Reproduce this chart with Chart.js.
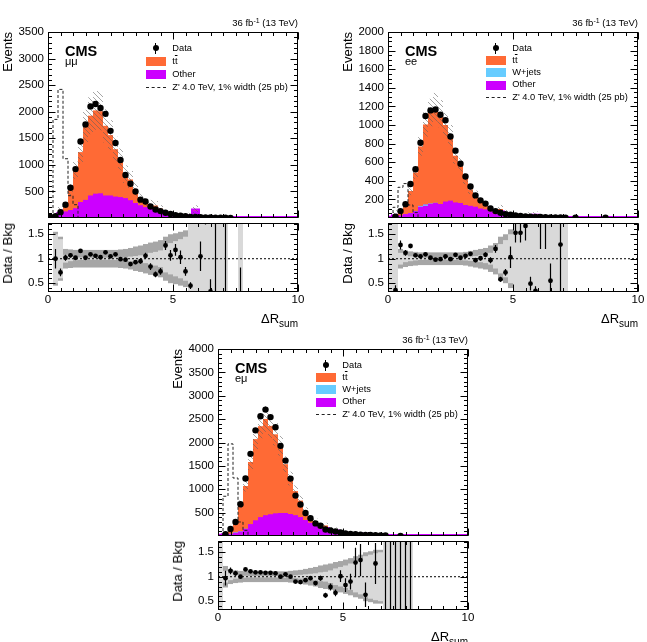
<!DOCTYPE html>
<html><head><meta charset="utf-8">
<script src="https://cdn.jsdelivr.net/npm/chart.js@4.4.1/dist/chart.umd.min.js"></script>
<style>
html,body{margin:0;padding:0;background:#fff;}
body{position:relative;width:647px;height:642px;overflow:hidden;font-family:"Liberation Sans",Arial,Helvetica,sans-serif;color:#000;}
canvas{position:absolute;}
.t{position:absolute;white-space:nowrap;line-height:1;}
.v{writing-mode:vertical-rl;transform:rotate(180deg);}
.sw{position:absolute;}
</style></head><body>
<script>
// ---------- axis / categories ----------
const X_LO = 0, X_HI = 10, BIN_W = 0.2, N_BINS = 50;
const BIN_LOW = [];
for (let i = 0; i < N_BINS; i++) BIN_LOW.push(Math.round(i * BIN_W * 10) / 10);
const X_TICK_LABELS = [0, 5, 10];
const RATIO_Y_TICKS = [0.5, 1, 1.5];
const RATIO_MIN = 0.32, RATIO_MAX = 1.73;
const MM_Y_TICKS = [500, 1000, 1500, 2000, 2500, 3000, 3500];
const EE_Y_TICKS = [200, 400, 600, 800, 1000, 1200, 1400, 1600, 1800, 2000];
const EM_Y_TICKS = [500, 1000, 1500, 2000, 2500, 3000, 3500, 4000];
const N = null;

// ---------- mu mu ----------
const MM_DATA = [20,35,110,250,570,920,1440,1760,2100,2145,
 2070,1960,1640,1410,1090,810,645,500,345,310,
 215,160,130,100,75,55,45,35,22,18,
 14,12,8,6,5,4,3,N,N,N,
 N,N,N,N,N,N,N,N,N,N];
const MM_TT = [8,15,83,125,383,720,940,1385,1505,1570,
 1550,1315,1140,895,710,456,395,258,128,92,
 86,95,66,24,25,17,16,17,17,10,
 5,2,8,1,0,0.3,0,0,0,0,
 0,0,0,0,0,0,0,0,0,0];
const MM_OTHER = [5,20,70,120,150,180,300,340,420,455,
 460,420,420,400,390,370,330,280,235,200,
 170,140,110,55,45,30,28,30,32,140,
 8,3,16,2,1,1,0,0,2,0,
 0,0,0,0,0,0,0,0,0,0];
const MM_ZP = [0,1855,2420,1115,420,250,0,0,0,0,
 0,0,0,0,0,0,0,0,0,0, 0,0,0,0,0,0,0,0,0,0, 0,0,0,0,0,0,0,0,0,0, 0,0,0,0,0,0,0,0,0,0];
const MM_RATIO = [N,1.0,0.72,1.02,1.07,1.02,1.16,1.02,1.09,1.06,
 1.03,1.13,1.05,1.09,0.99,0.98,0.89,0.93,0.95,1.06,
 0.84,0.68,0.74,1.27,1.07,1.18,1.03,0.74,0.45,0.12,
 1.05,2.4,0.33,2.2,5,3,N,N,0,N,
 N,N,N,N,N,N,N,N,N,N];
const MM_RATIO_ERR = [N,0.2,0.08,0.06,0.045,0.035,0.03,0.025,0.025,0.025,
 0.025,0.025,0.025,0.03,0.03,0.035,0.04,0.045,0.055,0.06,
 0.07,0.06,0.07,0.09,0.11,0.12,0.14,0.09,0.07,0.03,
 0.3,0.7,0.25,1.9,2.2,3,N,N,0.82,N,
 N,N,N,N,N,N,N,N,N,N];
const MM_TOT_UNC = [N,0.55,0.45,0.2,0.19,0.18,0.18,0.18,0.18,0.18,
 0.18,0.18,0.18,0.18,0.19,0.2,0.22,0.25,0.27,0.3,
 0.33,0.35,0.38,0.45,0.5,0.52,0.55,0.58,1,0.6,
 1,1,1,1,1,1,N,N,N,N,
 N,N,N,N,N,N,N,N,N,N];
const MM_STAT_UNC = [N,0.5,0.4,0.08,0.05,0.03,0.025,0.02,0.02,0.02,
 0.02,0.02,0.02,0.025,0.03,0.035,0.045,0.055,0.07,0.09,
 0.12,0.14,0.17,0.28,0.32,0.36,0.4,0.45,1,1,
 1,1,1,1,1,1,N,N,1,N,
 N,N,N,N,N,N,N,N,N,N];

// ---------- e e ----------
const EE_DATA = [N,15,74,148,366,524,809,1097,1157,1167,
 1111,1051,876,724,584,447,338,243,190,155,
 102,74,56,42,35,28,22,18,15,12,
 10,8,7,6,5,3,N,3,N,N,
 N,N,N,3,N,N,N,N,N,N];
const EE_TT = [2,22,33,90,237,415,640,861,979,1027,
 972,825,700,505,413,282,177,130,88,53,
 35,20,37,22,12,6,5,4,11,10,
 1,1.1,4,0,1,0,0,0,0,0,
 0,0,0,0,0,0,0,0,0,0];
const EE_WJETS = [0,0,0,2,3,5,10,15,5,3,
 0,0,0,0,0,0,0,0,0,0, 0,0,0,0,0,0,0,0,0,0, 0,0,0,0,0,0,0,0,0,0, 0,0,0,0,0,0,0,0,0,0];
const EE_OTHER = [3,20,25,40,50,70,120,130,150,160,
 150,175,185,165,160,140,130,120,100,90,
 70,42,60,36,22,12,9,7,20,25,
 3,2.5,9,0,3,0,0,0,0,0,
 0,0,0,0,0,0,0,0,0,0];
const EE_ZP = [0,115,330,370,140,60,0,0,0,0,
 0,0,0,0,0,0,0,0,0,0, 0,0,0,0,0,0,0,0,0,0, 0,0,0,0,0,0,0,0,0,0, 0,0,0,0,0,0,0,0,0,0];
const EE_RATIO = [N,0.36,1.28,1.12,1.26,1.07,1.05,1.09,1.02,0.98,
 0.99,1.05,0.99,1.08,1.02,1.06,1.1,0.97,1.01,1.08,
 0.97,1.2,0.58,0.72,1.03,1.53,1.53,1.67,0.49,0.34,
 2.5,2.2,0.55,N,1.29,N,N,N,N,N,
 N,N,N,N,N,N,N,N,N,N];
const EE_RATIO_ERR = [N,0.1,0.09,0.06,0.04,0.03,0.025,0.025,0.025,0.025,
 0.025,0.025,0.025,0.03,0.03,0.035,0.035,0.04,0.045,0.05,
 0.06,0.08,0.05,0.07,0.22,0.2,0.2,0.3,0.14,0.1,
 1.3,1.0,0.35,N,1.2,N,N,N,N,N,
 N,N,N,N,N,N,N,N,N,N];
const EE_TOT_UNC = [1,1,0.2,0.17,0.15,0.14,0.13,0.13,0.13,0.13,
 0.13,0.13,0.13,0.13,0.13,0.14,0.16,0.18,0.2,0.22,
 0.27,0.32,0.45,0.5,0.6,1,1,1,1,1,
 1,1,1,1,1,1,N,N,N,N,
 N,N,N,N,N,N,N,N,N,N];
const EE_STAT_UNC = [1,1,0.12,0.07,0.05,0.035,0.025,0.02,0.02,0.02,
 0.02,0.02,0.02,0.025,0.03,0.035,0.045,0.055,0.07,0.09,
 0.12,0.2,0.3,0.38,0.5,1,1,1,1,1,
 1,1,1,1,1,1,N,N,N,N,
 N,N,N,N,N,N,N,N,N,N];

// ---------- e mu ----------
const EM_DATA = [N,40,150,300,680,1230,1757,2260,2560,2704,
 2543,2327,1928,1613,1228,864,675,493,381,269,
 220,140,120,95,75,55,45,38,30,24,
 20,16,13,10,N,N,3,N,N,N,
 N,N,N,N,N,N,N,N,N,N];
const EM_TT = [2,23,89,205,580,915,1333,1743,1949,2064,
 1895,1695,1438,1046,758,520,358,190,113,89,
 67,76,52,47,24,21,16,9,7,12,
 2.3,3.6,1.2,0.8,0.2,0.2,0.3,0.2,0.2,0,
 0,0,0,0,0,0,0,0,0,0];
const EM_WJETS = [0,3,10,15,10,5,0,0,0,0,
 0,0,0,0,0,0,0,0,0,0, 0,0,0,0,0,0,0,0,0,0, 0,0,0,0,0,0,0,0,0,0, 0,0,0,0,0,0,0,0,0,0];
const EM_OTHER = [3,15,35,60,90,150,250,330,400,440,
 460,480,490,490,470,440,400,340,280,220,
 160,150,100,95,50,45,34,20,15,26,
 6,9,4,2.5,0.5,0.5,0.7,0.5,0.5,0,
 0,0,0,0,0,0,0,0,0,0];
const EM_ZP = [0,850,1970,1240,300,120,0,0,0,0,
 0,0,0,0,0,0,0,0,0,0, 0,0,0,0,0,0,0,0,0,0, 0,0,0,0,0,0,0,0,0,0, 0,0,0,0,0,0,0,0,0,0];
const EM_RATIO = [N,0.97,1.12,1.07,1.0,1.15,1.11,1.09,1.09,1.08,
 1.08,1.07,1.0,1.05,1.0,0.9,0.89,0.93,0.97,0.87,
 0.97,0.62,0.79,0.67,1.01,0.83,0.9,1.29,1.34,0.63,
 2.4,1.27,2.5,3,0,0,3,0,0,N,
 N,N,N,N,N,N,N,N,N,N];
const EM_RATIO_ERR = [N,0.15,0.07,0.05,0.03,0.025,0.02,0.02,0.02,0.02,
 0.02,0.02,0.02,0.02,0.02,0.03,0.03,0.035,0.04,0.045,
 0.05,0.05,0.07,0.07,0.12,0.14,0.16,0.3,0.33,0.25,
 0.6,0.42,0.7,2.8,4,4,3,4,4,N,
 N,N,N,N,N,N,N,N,N,N];
const EM_TOT_UNC = [1,0.22,0.15,0.13,0.12,0.11,0.11,0.11,0.11,0.11,
 0.11,0.11,0.11,0.11,0.12,0.13,0.14,0.16,0.18,0.2,
 0.23,0.25,0.27,0.3,0.32,0.35,0.38,0.42,0.45,0.5,
 0.52,0.55,0.55,1,1,1,1,1,1,N,
 N,N,N,N,N,N,N,N,N,N];
const EM_STAT_UNC = [1,0.12,0.07,0.04,0.03,0.02,0.015,0.015,0.015,0.015,
 0.015,0.015,0.015,0.02,0.025,0.03,0.04,0.05,0.06,0.07,
 0.09,0.1,0.13,0.17,0.2,0.23,0.27,0.32,0.36,0.42,
 0.45,0.48,0.5,1,1,1,1,1,1,N,
 N,N,N,N,N,N,N,N,N,N];

// ---------- text ----------
const LUMI_TEXT = '36 fb<span style="font-size:7px;position:relative;top:-3.5px">-1</span> (13 TeV)';
const CMS_TEXT = 'CMS';
const Y_TITLE = 'Events';
const RATIO_TITLE = 'Data / Bkg';
const X_TITLE = '\u0394R<span style="font-size:10px;position:relative;top:4px">sum</span>';
const LEG_LABELS = {
  data: 'Data',
  tt: 't<span style="text-decoration:overline">t</span>',
  wjets: 'W+jets',
  other: 'Other',
  zp: "Z' 4.0 TeV, 1% width (25 pb)"
};

// ---------- style ----------
const FONT = '"Liberation Sans", Arial, Helvetica, sans-serif';
const C_TT = '#ff6a35', C_OTHER = '#cc00ff', C_WJ = '#66ccff', C_TOT = '#a6a6a6', C_STAT = '#d9d9d9';
const YW = 40, RPAD = 12, TPAD = 10, BPAD = 1, RTPAD = 8, XH = 20;

const PANELS = [
  {label:'\u03bc\u03bc', PL:48, PT:32, PB:221, RT:223, RB:292, yMax:3500, yTicks:MM_Y_TICKS, yMinor:100, legStep:13,
   data:MM_DATA, tt:MM_TT, wjets:null, other:MM_OTHER, zp:MM_ZP, ratio:MM_RATIO, rerr:MM_RATIO_ERR, tot:MM_TOT_UNC, stat:MM_STAT_UNC},
  {label:'ee', PL:388, PT:32, PB:221, RT:223, RB:292, yMax:2000, yTicks:EE_Y_TICKS, yMinor:50, legStep:12.3,
   data:EE_DATA, tt:EE_TT, wjets:EE_WJETS, other:EE_OTHER, zp:EE_ZP, ratio:EE_RATIO, rerr:EE_RATIO_ERR, tot:EE_TOT_UNC, stat:EE_STAT_UNC},
  {label:'e\u03bc', PL:218, PT:349, PB:539, RT:541, RB:610, yMax:4000, yTicks:EM_Y_TICKS, yMinor:100, legStep:12.3,
   data:EM_DATA, tt:EM_TT, wjets:EM_WJETS, other:EM_OTHER, zp:EM_ZP, ratio:EM_RATIO, rerr:EM_RATIO_ERR, tot:EM_TOT_UNC, stat:EM_STAT_UNC}
];

function makeHatch() {
  const c = document.createElement('canvas'); c.width = 5; c.height = 5;
  const g = c.getContext('2d');
  g.strokeStyle = 'rgba(95,95,95,0.7)'; g.lineWidth = 0.8;
  g.beginPath();
  g.moveTo(-1,-1); g.lineTo(6,6);
  g.moveTo(-1,4); g.lineTo(1,6);
  g.moveTo(4,-1); g.lineTo(6,1);
  g.stroke();
  return g.createPattern(c, 'repeat');
}
const HATCH = makeHatch();

function binPoints(vals) { return BIN_LOW.map((x,i) => ({x: x + BIN_W/2, y: vals[i]})); }
function stepPoints(vals) {
  const p = BIN_LOW.map((x,i) => ({x, y: vals[i] || 0}));
  p.push({x: X_HI, y: vals[N_BINS-1] || 0});
  return p;
}
function floatBars(a, b) {
  return BIN_LOW.map((x,i) => ({x: x + BIN_W/2, y: (b[i] - a[i] > 0) ? [a[i], b[i]] : null}));
}
function bandBars(center, unc) {
  return BIN_LOW.map((x,i) => {
    const c = center[i], u = unc[i];
    return {x: x + BIN_W/2, y: (u == null || c == null || c <= 0) ? null : [c*(1-u), c*(1+u)]};
  });
}
function ratioBand(unc) {
  return BIN_LOW.map((x,i) => ({x: x + BIN_W/2, y: unc[i] == null ? null : [1 - unc[i], 1 + unc[i]]}));
}
function range(a, b, step) { const r = []; for (let v = a; v <= b + 1e-9; v += step) r.push(Math.round(v*1000)/1000); return r; }

function framePlugin(cfg) {
  return {
    id: 'frameTicks',
    afterDraw(chart) {
      const {ctx, chartArea: a} = chart; const xs = chart.scales.x, ys = chart.scales.y;
      ctx.save(); ctx.strokeStyle = '#000'; ctx.lineWidth = 1;
      const L = a.left + 0.5, R = a.right - 0.5, T = a.top + 0.5, B = a.bottom - 0.5;
      ctx.beginPath();
      const xt = (vals, len) => vals.forEach(v => { const p = Math.round(xs.getPixelForValue(v)) + 0.5;
        ctx.moveTo(p, B); ctx.lineTo(p, B - len); ctx.moveTo(p, T); ctx.lineTo(p, T + len); });
      const yt = (vals, len) => vals.forEach(v => { const p = Math.round(ys.getPixelForValue(v)) + 0.5;
        if (p < T || p > B) return;
        ctx.moveTo(L, p); ctx.lineTo(L + len, p); ctx.moveTo(R, p); ctx.lineTo(R - len, p); });
      xt(cfg.xMinor, cfg.xMinLen); xt(cfg.xMajor, cfg.xMajLen);
      yt(cfg.yMinor, cfg.yMinLen); yt(cfg.yMajor, cfg.yMajLen);
      ctx.stroke();
      ctx.strokeRect(L, T, R - L, B - T);
      ctx.restore();
    }
  };
}
function errorPlugin(points, errs) {
  return {
    id: 'errorBars',
    afterDatasetsDraw(chart) {
      const {ctx, chartArea: a} = chart; const xs = chart.scales.x, ys = chart.scales.y;
      ctx.save();
      ctx.beginPath(); ctx.rect(a.left, a.top, a.width, a.height); ctx.clip();
      ctx.strokeStyle = '#000'; ctx.lineWidth = 1.2;
      ctx.beginPath();
      points.forEach((p, i) => {
        const e = errs[i];
        if (p.y == null || e == null) return;
        const px = xs.getPixelForValue(p.x);
        ctx.moveTo(px, ys.getPixelForValue(p.y - e));
        ctx.lineTo(px, ys.getPixelForValue(p.y + e));
      });
      ctx.stroke(); ctx.restore();
    }
  };
}
function mkCanvas(left, top, w, h) {
  const cv = document.createElement('canvas');
  cv.width = w; cv.height = h;
  cv.style.left = left + 'px'; cv.style.top = top + 'px';
  cv.style.width = w + 'px'; cv.style.height = h + 'px';
  document.body.appendChild(cv);
  return cv;
}
const BAR = {type:'bar', grouped:false, barPercentage:1, categoryPercentage:1, inflateAmount:0, clip:0, borderWidth:0};

function makeMain(p) {
  const W = YW + 250 + RPAD, H = TPAD + (p.PB - p.PT) + BPAD;
  const cv = mkCanvas(p.PL - YW, p.PT - TPAD, W, H);
  const lo = [], mid = [], hi = [], zero = [];
  for (let i = 0; i < N_BINS; i++) {
    const o = p.other[i] || 0, w = p.wjets ? (p.wjets[i] || 0) : 0, t = p.tt[i] || 0;
    lo.push(o); mid.push(o + w); hi.push(o + w + t); zero.push(0);
  }
  const ds = [
    {type:'line', data: binPoints(p.data), showLine:false, pointRadius:3.2, pointBackgroundColor:'#000', pointBorderColor:'#000', pointBorderWidth:0},
    {type:'line', data: stepPoints(p.zp), stepped:true, borderColor:'#222', borderWidth:1, borderDash:[3,2], pointRadius:0, fill:false, clip:0},
    Object.assign({}, BAR, {data: bandBars(hi, p.tot), backgroundColor: HATCH}),
    Object.assign({}, BAR, {data: floatBars(zero, lo), backgroundColor: C_OTHER})
  ];
  if (p.wjets) ds.push(Object.assign({}, BAR, {data: floatBars(lo, mid), backgroundColor: C_WJ}));
  ds.push(Object.assign({}, BAR, {data: floatBars(mid, hi), backgroundColor: C_TT}));
  ds.push({type:'line', data: stepPoints(p.other), stepped:true, borderColor:C_OTHER, borderWidth:4, pointRadius:0, fill:false, clip:0});
  new Chart(cv, {
    type:'bar', data:{datasets: ds},
    options:{
      responsive:false, animation:false, devicePixelRatio:1, events:[],
      layout:{padding:{left:0, top:TPAD, right:RPAD, bottom:BPAD}},
      plugins:{legend:{display:false}, tooltip:{enabled:false}},
      scales:{
        x:{type:'linear', min:X_LO, max:X_HI, offset:false, display:false},
        y:{type:'linear', min:0, max:p.yMax, grid:{display:false, drawTicks:false}, border:{display:false},
           ticks:{font:{family:FONT, size:11.5}, color:'#000', padding:4, callback:v => String(v)},
           afterBuildTicks: s => { s.ticks = p.yTicks.map(v => ({value:v})); },
           afterFit: s => { s.width = YW; s.paddingTop = 0; s.paddingBottom = 0; }}
      }
    },
    plugins:[framePlugin({xMinor: range(X_LO, X_HI, 0.5), xMinLen:3.5, xMajor: X_TICK_LABELS, xMajLen:7,
      yMinor: range(0, p.yMax, p.yMinor), yMinLen:3.5, yMajor: [0].concat(p.yTicks), yMajLen:7})]
  });
}

function makeRatio(p) {
  const W = YW + 250 + RPAD, H = RTPAD + (p.RB - p.RT) + XH;
  const cv = mkCanvas(p.PL - YW, p.RT - RTPAD, W, H);
  const pts = binPoints(p.ratio);
  const ds = [
    {type:'line', data: pts, showLine:false, pointRadius:2.4, pointBackgroundColor:'#000', pointBorderColor:'#000', pointBorderWidth:0},
    {type:'line', data:[{x:X_LO, y:1}, {x:X_HI, y:1}], borderColor:'#000', borderWidth:1, borderDash:[2,2], pointRadius:0, fill:false},
    Object.assign({}, BAR, {data: ratioBand(p.stat), backgroundColor: C_STAT}),
    Object.assign({}, BAR, {data: ratioBand(p.tot), backgroundColor: C_TOT})
  ];
  new Chart(cv, {
    type:'bar', data:{datasets: ds},
    options:{
      responsive:false, animation:false, devicePixelRatio:1, events:[],
      layout:{padding:{left:0, top:RTPAD, right:RPAD, bottom:0}},
      plugins:{legend:{display:false}, tooltip:{enabled:false}},
      scales:{
        x:{type:'linear', min:X_LO, max:X_HI, offset:false, grid:{display:false, drawTicks:false}, border:{display:false},
           ticks:{font:{family:FONT, size:11.5}, color:'#000', padding:1, maxRotation:0, callback:v => String(v)},
           afterBuildTicks: s => { s.ticks = X_TICK_LABELS.map(v => ({value:v})); },
           afterFit: s => { s.height = XH; s.paddingLeft = 0; s.paddingRight = 0; }},
        y:{type:'linear', min:RATIO_MIN, max:RATIO_MAX, grid:{display:false, drawTicks:false}, border:{display:false},
           ticks:{font:{family:FONT, size:11.5}, color:'#000', padding:4, callback:v => String(v)},
           afterBuildTicks: s => { s.ticks = RATIO_Y_TICKS.map(v => ({value:v})); },
           afterFit: s => { s.width = YW; s.paddingTop = 0; s.paddingBottom = 0; }}
      }
    },
    plugins:[errorPlugin(pts, p.rerr), framePlugin({xMinor: range(X_LO, X_HI, 0.5), xMinLen:3.5, xMajor: X_TICK_LABELS, xMajLen:7,
      yMinor: range(0.4, 1.7, 0.1), yMinLen:3.5, yMajor: RATIO_Y_TICKS, yMajLen:7})]
  });
}

function addText(html, css, cls) {
  const d = document.createElement('div'); d.className = 't' + (cls ? ' ' + cls : '');
  d.innerHTML = html; Object.assign(d.style, css); document.body.appendChild(d); return d;
}
function addSwatch(css) {
  const d = document.createElement('div'); d.className = 'sw'; Object.assign(d.style, css); document.body.appendChild(d);
}

PANELS.forEach(p => { makeMain(p); makeRatio(p); });

PANELS.forEach(p => {
  const right = (647 - (p.PL + 250)) + 'px';
  addText(LUMI_TEXT, {right, top:(p.PT - 14) + 'px', fontSize:'9.5px'});
  addText(CMS_TEXT, {left:(p.PL + 17) + 'px', top:(p.PT + 12) + 'px', fontSize:'14.5px', fontWeight:'bold'});
  addText(p.label, {left:(p.PL + 17) + 'px', top:(p.PT + 24) + 'px', fontSize:'11px'});
  addText(Y_TITLE, {left:(p.PL - 47) + 'px', top:p.PT + 'px', fontSize:'13px'}, 'v');
  addText(RATIO_TITLE, {left:(p.PL - 47) + 'px', top:p.RT + 'px', fontSize:'13px'}, 'v');
  addText(X_TITLE, {right, top:(p.RB + 20) + 'px', fontSize:'13px'});
  const keys = p.wjets ? ['data','tt','wjets','other','zp'] : ['data','tt','other','zp'];
  const bx = p.PL + 97.7, tx = p.PL + 124.3;
  keys.forEach((k, i) => {
    const y = p.PT + 16.3 + i * p.legStep;
    if (k === 'data') {
      addSwatch({left:(bx + 7) + 'px', top:(y - 3) + 'px', width:'6px', height:'6px', borderRadius:'50%', background:'#000'});
      addSwatch({left:(bx + 9.5) + 'px', top:(y - 5.5) + 'px', width:'1px', height:'11px', background:'#000'});
    } else if (k === 'zp') {
      addSwatch({left:bx + 'px', top:(y - 0.5) + 'px', width:'20px', height:'0px', borderTop:'1px dashed #222'});
    } else {
      const col = k === 'tt' ? C_TT : (k === 'wjets' ? C_WJ : C_OTHER);
      addSwatch({left:bx + 'px', top:(y - 4.5) + 'px', width:'20px', height:'9px', background:col});
    }
    addText(LEG_LABELS[k], {left:tx + 'px', top:(y - 4.8) + 'px', fontSize:'9.3px'});
  });
});
</script>
</body></html>
